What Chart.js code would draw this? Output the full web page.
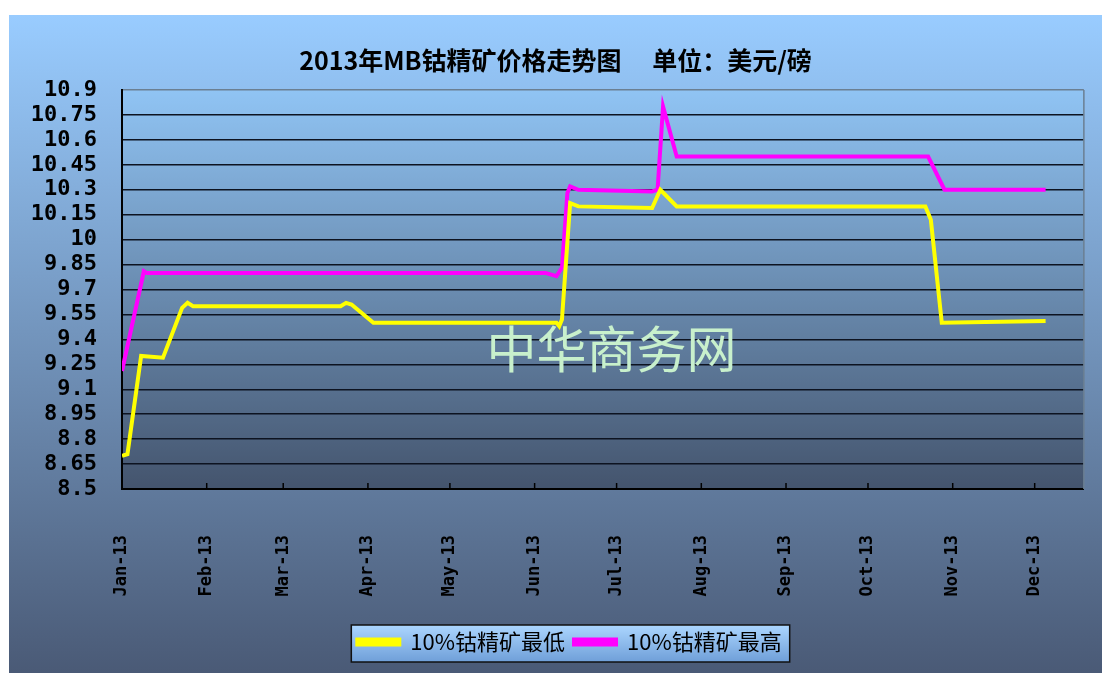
<!DOCTYPE html>
<html>
<head>
<meta charset="utf-8">
<title>2013年MB钴精矿价格走势图</title>
<script src="https://cdn.jsdelivr.net/npm/chart.js@4.4.1/dist/chart.umd.min.js"></script>
<style>
  html, body { margin: 0; padding: 0; background: #fff; }
  #wrap { position: absolute; left: 9px; top: 15px; width: 1093px; height: 658px; }
</style>
</head>
<body>
<div id="wrap"><canvas id="myChart"></canvas></div>
<script>
// 2013 MB cobalt concentrate price (USD/lb)

const monthLabels = ["Jan-13", "Feb-13", "Mar-13", "Apr-13", "May-13", "Jun-13",
  "Jul-13", "Aug-13", "Sep-13", "Oct-13", "Nov-13", "Dec-13"];
const monthDays = [0, 31, 59, 90, 120, 151, 181, 212, 243, 273, 304, 334];

const yTicks = [8.5, 8.65, 8.8, 8.95, 9.1, 9.25, 9.4, 9.55, 9.7, 9.85,
  10, 10.15, 10.3, 10.45, 10.6, 10.75, 10.9];
const yTickLabels = ["8.5", "8.65", "8.8", "8.95", "9.1", "9.25", "9.4", "9.55", "9.7", "9.85",
  "10", "10.15", "10.3", "10.45", "10.6", "10.75", "10.9"];

// day of year (0 = 1 Jan)
const lowDays = [0, 2, 7, 15, 22, 24, 26, 80, 82, 84, 92, 159, 160, 161, 164, 167, 194, 197, 203, 294, 296, 300, 338];
const lowPrices = [8.70, 8.71, 9.30, 9.29, 9.59, 9.62, 9.60, 9.60, 9.62, 9.61, 9.50, 9.50, 9.48, 9.52, 10.22, 10.20, 10.19, 10.30, 10.20, 10.20, 10.12, 9.50, 9.51];

const highDays = [0, 8, 9, 155, 159, 161, 163, 164, 167, 194, 196, 198, 203, 295, 301, 338];
const highPrices = [9.21, 9.81, 9.80, 9.80, 9.78, 9.83, 10.28, 10.32, 10.30, 10.29, 10.30, 10.80, 10.50, 10.50, 10.30, 10.30];

const toPoints = (days, prices) => days.map((d, i) => ({ x: d, y: prices[i] }));

const cjk = "'Noto Sans CJK SC', 'Noto Sans', sans-serif";
const mono = "'DejaVu Sans Mono', 'Liberation Mono', monospace";

//backgrounds, legend frame, watermark
const decor = {
  id: "decor",
  afterUpdate(chart) {
    const legend = chart.legend;
    legend.left += 14;
    legend.right += 14;
    legend.adjustHitBoxes();
  },
  beforeDraw(chart) {
    const { ctx, width, height, chartArea: a } = chart;
    ctx.save();
    let g = ctx.createLinearGradient(0, 0, 0, height);
    g.addColorStop(0, "#99ccff");
    g.addColorStop(1, "#4a5a76");
    ctx.fillStyle = g;
    ctx.fillRect(0, 0, width, height);

    g = ctx.createLinearGradient(0, a.top, 0, a.bottom);
    g.addColorStop(0, "#90c4f4");
    g.addColorStop(1, "#44546d");
    ctx.fillStyle = g;
    ctx.fillRect(a.left, a.top, a.right - a.left, a.bottom - a.top);

    const legend = chart.legend;
    const hb = legend.legendHitBoxes;
    if (hb && hb.length) {
      const last = hb[hb.length - 1];
      const x0 = hb[0].left - 6;
      const x1 = last.left + last.width + 8;
      const y0 = legend.top + 3;
      const y1 = legend.top + 40;
      g = ctx.createLinearGradient(0, y0, 0, y1);
      g.addColorStop(0, "#acd6ff");
      g.addColorStop(1, "#6f9fd8");
      ctx.fillStyle = g;
      ctx.fillRect(x0, y0, x1 - x0, y1 - y0);
      ctx.strokeStyle = "#111";
      ctx.lineWidth = 1.5;
      ctx.strokeRect(x0, y0, x1 - x0, y1 - y0);
    }
    ctx.restore();
  },
  beforeDatasetsDraw(chart) {
    const { ctx, chartArea: a, scales } = chart;
    ctx.save();
    // watermark
    ctx.font = "50px " + cjk;
    ctx.fillStyle = "#c8f0cc";
    ctx.textAlign = "center";
    ctx.textBaseline = "middle";
    ctx.fillText("中华商务网", a.left + (a.right - a.left) * 0.509, a.top + (a.bottom - a.top) * 0.65);

    // plot frame right side
    ctx.strokeStyle = "#6b7f92";
    ctx.lineWidth = 1.5;
    ctx.beginPath();
    ctx.moveTo(a.right, a.top);
    ctx.lineTo(a.right, a.bottom);
    ctx.stroke();

    // inner tick marks
    ctx.strokeStyle = "#000";
    ctx.lineWidth = 1.5;
    scales.x.ticks.forEach((t) => {
      const px = scales.x.getPixelForValue(t.value);
      ctx.beginPath();
      ctx.moveTo(px, a.bottom);
      ctx.lineTo(px, a.bottom - 6);
      ctx.stroke();
    });
    ctx.restore();
  },
};

new Chart("myChart", {
  type: "line",
  data: {
    datasets: [
      {
        label: "10%钴精矿最低",
        data: toPoints(lowDays, lowPrices),
        borderColor: "#ffff00",
        backgroundColor: "#ffff00",
        borderWidth: 4,
        pointRadius: 0,
        tension: 0,
      },
      {
        label: "10%钴精矿最高",
        data: toPoints(highDays, highPrices),
        borderColor: "#ff00ff",
        backgroundColor: "#ff00ff",
        borderWidth: 4,
        pointRadius: 0,
        tension: 0,
      },
    ],
  },
  options: {
    responsive: true,
    maintainAspectRatio: false,
    animation: false,
    events: [],
    layout: { padding: { left: 18, right: 18, top: 0, bottom: 10 } },
    plugins: {
      title: {
        display: true,
        text: "2013年MB钴精矿价格走势图　 单位：美元/磅",
        color: "#000",
        font: { family: cjk, size: 25, weight: "bold" },
        padding: { top: 30, bottom: 15 },
      },
      legend: {
        position: "bottom",
        labels: {
          color: "#000",
          font: { family: cjk, size: 22 },
          boxWidth: 42,
          boxHeight: 5,
          padding: 9,
        },
      },
      tooltip: { enabled: false },
    },
    scales: {
      x: {
        type: "linear",
        min: 0,
        max: 352,
        afterBuildTicks: (s) => {
          s.ticks = monthDays.map((v) => ({ value: v }));
        },
        afterFit: (s) => {
          s.height = 133;
        },
        ticks: {
          autoSkip: false,
          minRotation: 90,
          maxRotation: 90,
          padding: 46,
          color: "#000",
          font: { family: mono, size: 17, weight: "bold" },
          callback: (v, i) => monthLabels[i],
        },
        grid: { display: false, drawTicks: false },
        border: { display: true, color: "#000", width: 2 },
      },
      y: {
        min: 8.5,
        max: 10.9,
        afterBuildTicks: (s) => {
          s.ticks = yTicks.map((v) => ({ value: v }));
        },
        afterFit: (s) => {
          s.width = 95;
        },
        ticks: {
          autoSkip: false,
          padding: 25,
          color: "#000",
          font: { family: mono, size: 22, weight: "bold" },
          callback: (v, i) => yTickLabels[i],
        },
        grid: {
          color: (c) => (c.tick && c.tick.value === 10.9 ? "#6b7f92" : "#0d1320"),
          lineWidth: 1.5,
          drawTicks: false,
        },
        border: { display: true, color: "#000", width: 2 },
      },
    },
  },
  plugins: [decor],
});
</script>
</body>
</html>
